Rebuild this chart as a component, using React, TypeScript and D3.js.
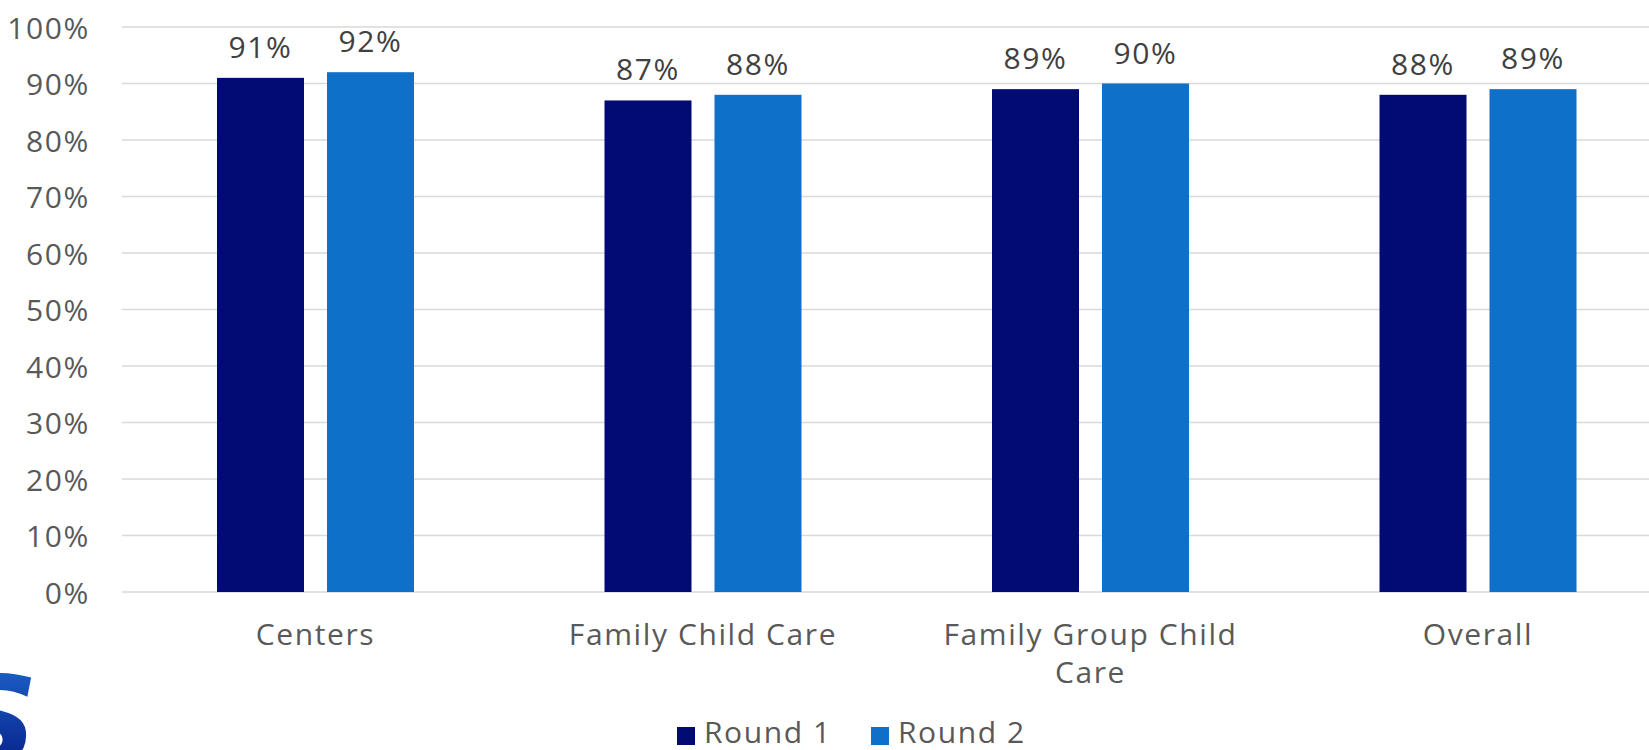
import React from "react";
import * as d3 from "d3";

const categories = ["Centers", "Family Child Care", "Family Group Child Care", "Overall"];
const seriesNames = ["Round 1", "Round 2"];
const round1 = [0.91, 0.87, 0.89, 0.88];
const round2 = [0.92, 0.88, 0.9, 0.89];
const yTicks = [0, 0.1, 0.2, 0.3, 0.4, 0.5, 0.6, 0.7, 0.8, 0.9, 1.0];

const W = 1649;
const H = 750;
const COLORS = ["#020B74", "#0E70C8"];
const TEXT = "#595959";
const FONT = "'Open Sans', 'DejaVu Sans', sans-serif";
const FS = 30;
const LS = 1.6;

function wrap(label: string, maxW: number): string[] {
  const c = document.createElement("canvas").getContext("2d")!;
  c.font = `${FS}px ${FONT}`;
  const words = label.split(" ");
  const lines: string[] = [];
  let cur = "";
  const width = (s: string) => c.measureText(s).width + LS * s.length;
  for (const w of words) {
    const t = cur ? cur + " " + w : w;
    if (width(t) > maxW && cur) {
      lines.push(cur);
      cur = w;
    } else cur = t;
  }
  if (cur) lines.push(cur);
  return lines;
}

export default function App() {
  const y = d3.scaleLinear().domain([0, 1]).range([592, 27]);
  const x = d3.scaleBand<string>().domain(categories).range([121.75, 1671.75]).padding(0);
  const inner = d3
    .scaleBand<string>()
    .domain(seriesNames)
    .range([-98.5, 98.5])
    .paddingInner(23 / 110)
    .paddingOuter(0);
  const series = [round1, round2];
  const pct = d3.format(".0%");

  return (
    <svg
      width={W}
      height={H}
      style={{ position: "absolute", left: 0, top: 0, background: "#fff" }}
      fontFamily={FONT}
      letterSpacing={LS}
    >
      <defs>
        <linearGradient id="logoGrad" x1="0" y1="0" x2="0" y2="1">
          <stop offset="0%" stopColor="#1E6AD0" />
          <stop offset="100%" stopColor="#020E78" />
        </linearGradient>
      </defs>
      {yTicks.map((t) => (
        <line key={t} x1={122} x2={W} y1={y(t)} y2={y(t)} stroke="#D9D9D9" strokeWidth={1.5} />
      ))}
      {yTicks.map((t) => (
        <text
          key={"l" + t}
          x={90}
          y={y(t)}
          textAnchor="end"
          dominantBaseline="central"
          fontSize={FS}
          fill={TEXT}
        >
          {pct(t)}
        </text>
      ))}
      {categories.map((c, i) => {
        const cx = (x(c) as number) + x.bandwidth() / 2;
        return (
          <g key={c}>
            {series.map((s, j) => {
              const bx = cx + (inner(seriesNames[j]) as number);
              return (
                <g key={j}>
                  <rect
                    x={bx}
                    y={y(s[i])}
                    width={inner.bandwidth()}
                    height={y(0) - y(s[i])}
                    fill={COLORS[j]}
                  />
                  <text
                    x={bx + inner.bandwidth() / 2}
                    y={y(s[i]) - 20}
                    textAnchor="middle"
                    fontSize={FS}
                    fill="#404040"
                  >
                    {pct(s[i])}
                  </text>
                </g>
              );
            })}
            {wrap(c, x.bandwidth() * 0.85).map((ln, k) => (
              <text
                key={k}
                x={cx}
                y={645 + k * 38}
                textAnchor="middle"
                fontSize={FS}
                fill={TEXT}
              >
                {ln}
              </text>
            ))}
          </g>
        );
      })}
      {seriesNames.map((n, j) => (
        <g key={n} transform={`translate(${677 + j * 194},727)`}>
          <rect width={18} height={18} fill={COLORS[j]} />
          <text x={27} y={16} fontSize={FS} fill={TEXT}>
            {n}
          </text>
        </g>
      ))}
      <text
        x={-52}
        y={766}
        fontSize={125}
        fontWeight={900}
        fontStyle="italic"
        fontFamily="'DejaVu Sans', sans-serif"
        letterSpacing={0}
        fill="url(#logoGrad)"
      >
        S
      </text>
    </svg>
  );
}
